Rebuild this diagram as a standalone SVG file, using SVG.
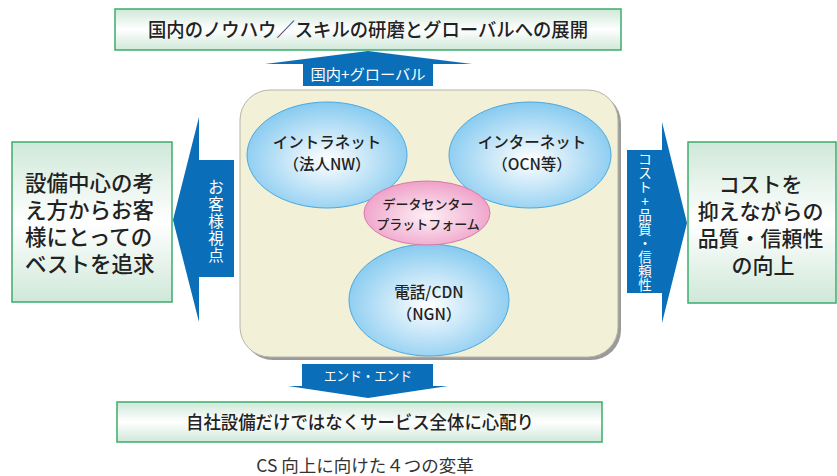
<svg xmlns="http://www.w3.org/2000/svg" width="837" height="476" viewBox="0 0 837 476">
<defs>
<linearGradient id="gbox" x1="0" y1="0" x2="0" y2="1">
<stop offset="0" stop-color="#cfe8d9"/><stop offset="0.5" stop-color="#ffffff"/><stop offset="1" stop-color="#cfe8d9"/>
</linearGradient>
<radialGradient id="gblue" cx="0.5" cy="0.55" r="0.55">
<stop offset="0" stop-color="#ffffff"/><stop offset="1" stop-color="#86caf0"/>
</radialGradient>
<radialGradient id="gpink" cx="0.5" cy="0.55" r="0.55">
<stop offset="0" stop-color="#fdf0f6"/><stop offset="1" stop-color="#efa0c8"/>
</radialGradient>
<style>
.box{fill:url(#gbox);stroke:#3cac6c;stroke-width:1.5}
.t{font-family:"Noto Sans CJK JP","Noto Sans",sans-serif;fill:#222;font-weight:500}
.w{font-family:"Noto Sans CJK JP","Noto Sans",sans-serif;fill:#fff;font-weight:400}
.arr{fill:#0a6fb8}
.ell{fill:url(#gblue);stroke:#4ba9dd;stroke-width:1}
</style>
</defs>

<g id="connectors">
<g id="arrow-top">
<polygon class="arr" points="265,64 368,51 472,64 433,64 433,86 303,86 303,64"/>
<text class="w" x="368" y="80" font-size="14.5" text-anchor="middle" textLength="115" lengthAdjust="spacingAndGlyphs">国内+グローバル</text>
</g>
<g id="arrow-left">
<polygon class="arr" points="173,220 199,117 199,160 234,160 234,277 199,277 199,322"/>
<text class="w" font-size="15.5" text-anchor="middle">
<tspan x="216" y="193">お</tspan><tspan x="216" y="210">客</tspan><tspan x="216" y="227">様</tspan><tspan x="216" y="244">視</tspan><tspan x="216" y="261">点</tspan>
</text>
</g>
<g id="arrow-right">
<polygon class="arr" points="627,150 662,150 662,122 687,223 662,323 662,293 627,293"/>
<text class="w" font-size="13.5" text-anchor="middle">
<tspan x="645" y="164">コ</tspan><tspan x="645" y="178">ス</tspan><tspan x="645" y="192">ト</tspan><tspan x="645" y="206">+</tspan><tspan x="645" y="220">品</tspan><tspan x="645" y="234">質</tspan><tspan x="645" y="248">・</tspan><tspan x="645" y="262">信</tspan><tspan x="645" y="276">頼</tspan><tspan x="645" y="290">性</tspan>
</text>
</g>
<g id="arrow-bottom">
<polygon class="arr" points="302,364 433,364 433,386 448,386 368,398 288,386 302,386"/>
<text class="w" x="368" y="381" font-size="13.5" text-anchor="middle" textLength="88" lengthAdjust="spacingAndGlyphs">エンド・エンド</text>
</g>
</g>

<g id="top-box">
<rect class="box" x="115" y="9" width="506" height="41"/>
<text class="t" x="368" y="37" font-size="19" text-anchor="middle" textLength="440" lengthAdjust="spacingAndGlyphs">国内のノウハウ／スキルの研磨とグローバルへの展開</text>
</g>

<g id="left-box">
<rect class="box" x="12" y="142" width="160" height="160"/>
<text class="t" font-size="21.5" x="25">
<tspan x="25" y="191">設備中心の考</tspan>
<tspan x="25" y="218">え方からお客</tspan>
<tspan x="25" y="245">様にとっての</tspan>
<tspan x="25" y="272">ベストを追求</tspan>
</text>
</g>

<g id="right-box">
<rect class="box" x="688" y="142" width="148" height="161"/>
<text class="t" font-size="21" text-anchor="middle">
<tspan x="763" y="192">コストを</tspan>
<tspan x="763" y="219">抑えながらの</tspan>
<tspan x="763" y="246">品質・信頼性</tspan>
<tspan x="763" y="273">の向上</tspan>
</text>
</g>

<g id="bottom-box">
<rect class="box" x="117" y="402" width="485" height="40"/>
<text class="t" x="360" y="429" font-size="18" text-anchor="middle" textLength="348" lengthAdjust="spacingAndGlyphs">自社設備だけではなくサービス全体に心配り</text>
</g>

<g id="panel">
<rect x="243" y="93" width="378" height="267" rx="30" fill="#9a9a9a"/>
<rect x="240" y="90" width="378" height="267" rx="30" fill="#f3f0d8" stroke="#b5b5a5" stroke-width="1"/>
</g>

<g id="intranet">
<ellipse class="ell" cx="327" cy="155" rx="80" ry="53"/>
<text class="t" font-size="15.5" text-anchor="middle"><tspan x="327" y="148">イントラネット</tspan><tspan x="327" y="170">（法人NW）</tspan></text>
</g>
<g id="internet">
<ellipse class="ell" cx="530" cy="155" rx="81" ry="53"/>
<text class="t" font-size="15.5" text-anchor="middle"><tspan x="532" y="148">インターネット</tspan><tspan x="532" y="170">（OCN等）</tspan></text>
</g>
<g id="phone">
<ellipse class="ell" cx="429" cy="300" rx="80" ry="56"/>
<text class="t" font-size="15.5" text-anchor="middle"><tspan x="429" y="298">電話/CDN</tspan><tspan x="429" y="320">（NGN）</tspan></text>
</g>
<g id="datacenter">
<ellipse cx="427" cy="213" rx="63" ry="32" fill="url(#gpink)" stroke="#d77aa8" stroke-width="1"/>
<text class="t" font-size="13" text-anchor="middle"><tspan x="428" y="209">データセンター</tspan><tspan x="428" y="229">プラットフォーム</tspan></text>
</g>

<g id="caption">
<text x="365" y="472" font-size="17.5" text-anchor="middle" font-family="'Noto Sans CJK JP','Noto Sans',sans-serif" fill="#333">CS 向上に向けた４つの変革</text>
</g>
</svg>
